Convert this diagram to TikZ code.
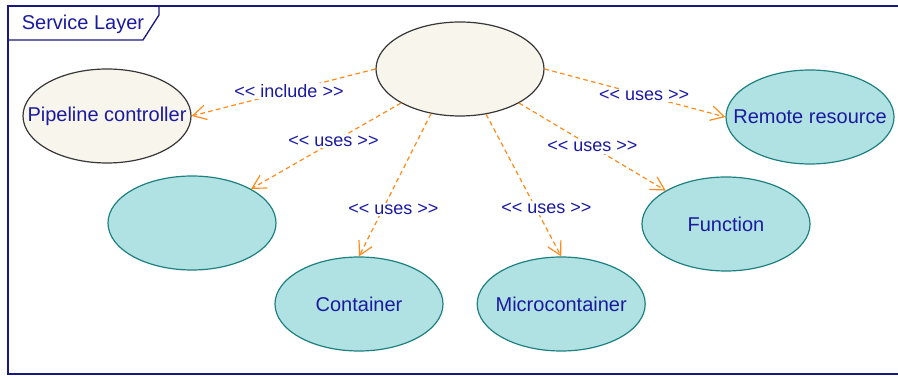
\documentclass[tikz,border=0pt]{standalone}
\usepackage{fontspec}
\setmainfont{Liberation Sans}
\usetikzlibrary{arrows.meta}
\usetikzlibrary{shapes.geometric}
\usetikzlibrary{positioning}

\definecolor{navy}{RGB}{24,24,128}
\definecolor{ink}{RGB}{26,26,160}
\definecolor{cream}{RGB}{247,245,236}
\definecolor{rim}{RGB}{55,55,55}
\definecolor{aqua}{RGB}{176,226,228}
\definecolor{tealrim}{RGB}{30,128,128}
\definecolor{amber}{RGB}{255,140,26}

\newcommand{\stereo}[1]{<\kern0pt< #1 >\kern0pt>}
\newcommand{\uctext}[1]{\makebox[0pt]{#1}}

\begin{document}
\begin{tikzpicture}[x=0.75pt,y=0.75pt,
    case/.style={ellipse, draw, line width=0.9pt, minimum width=126pt, minimum height=70.5pt,
                 inner sep=0pt, text=ink, font=\fontsize{15}{18}\selectfont},
    task/.style={case, draw=rim, fill=cream},
    svc/.style={case, draw=tealrim, fill=aqua},
    dep/.style={draw=amber, line width=0.9pt, dash pattern=on 3.5pt off 2.5pt,
                -{Straight Barb[length=10pt,width=11pt,line width=0.9pt]}},
    lbl/.style={fill=white, inner sep=1pt, text=ink, font=\fontsize{13.5}{16}\selectfont}]
        \useasboundingbox (0,0) rectangle (898,377);

        % frame
        \draw[navy, line width=1pt] (8,3) rectangle (920,371);
        \draw[navy, line width=1pt] (8,337) -- (143,337) -- (159,362) -- (159,371);
        \node[text=ink, font=\fontsize{15}{18}\selectfont] (t) at (83,353) {Service Layer};

        \node[task] (l) at (460,308) {};
        \node[task] (p) at (107,261) {\uctext{Pipeline controller}};
        \node[svc] (r) at (810,260) {\uctext{Remote resource}};
        \node[svc] (s) at (192,154) {};
        \node[svc] (f) at (726,153) {\uctext{Function}};
        \node[svc] (c) at (359,73) {\uctext{Container}};
        \node[svc, right=24.75pt of c] (m) {\uctext{Microcontainer}};

        \draw[dep] (l.west) -- node[lbl, pos=0.47] {\stereo{include}} (p.east);
        \draw[dep] (l.210) -- node[lbl, pos=0.45] {\stereo{uses}} (s.30);
        \draw[dep] (l.237) -- node[lbl, pos=0.67, xshift=8pt] {\stereo{uses}} (c.north);
        \draw[dep] (l.300) -- node[lbl, pos=0.66, xshift=8pt] {\stereo{uses}} (m.north);
        \draw[dep] (l.330) -- node[lbl, pos=0.5] {\stereo{uses}} (f.151);
        \draw[dep] (l.east) -- node[lbl, pos=0.55] {\stereo{uses}} (r.west);
    \end{tikzpicture}
\end{document}
